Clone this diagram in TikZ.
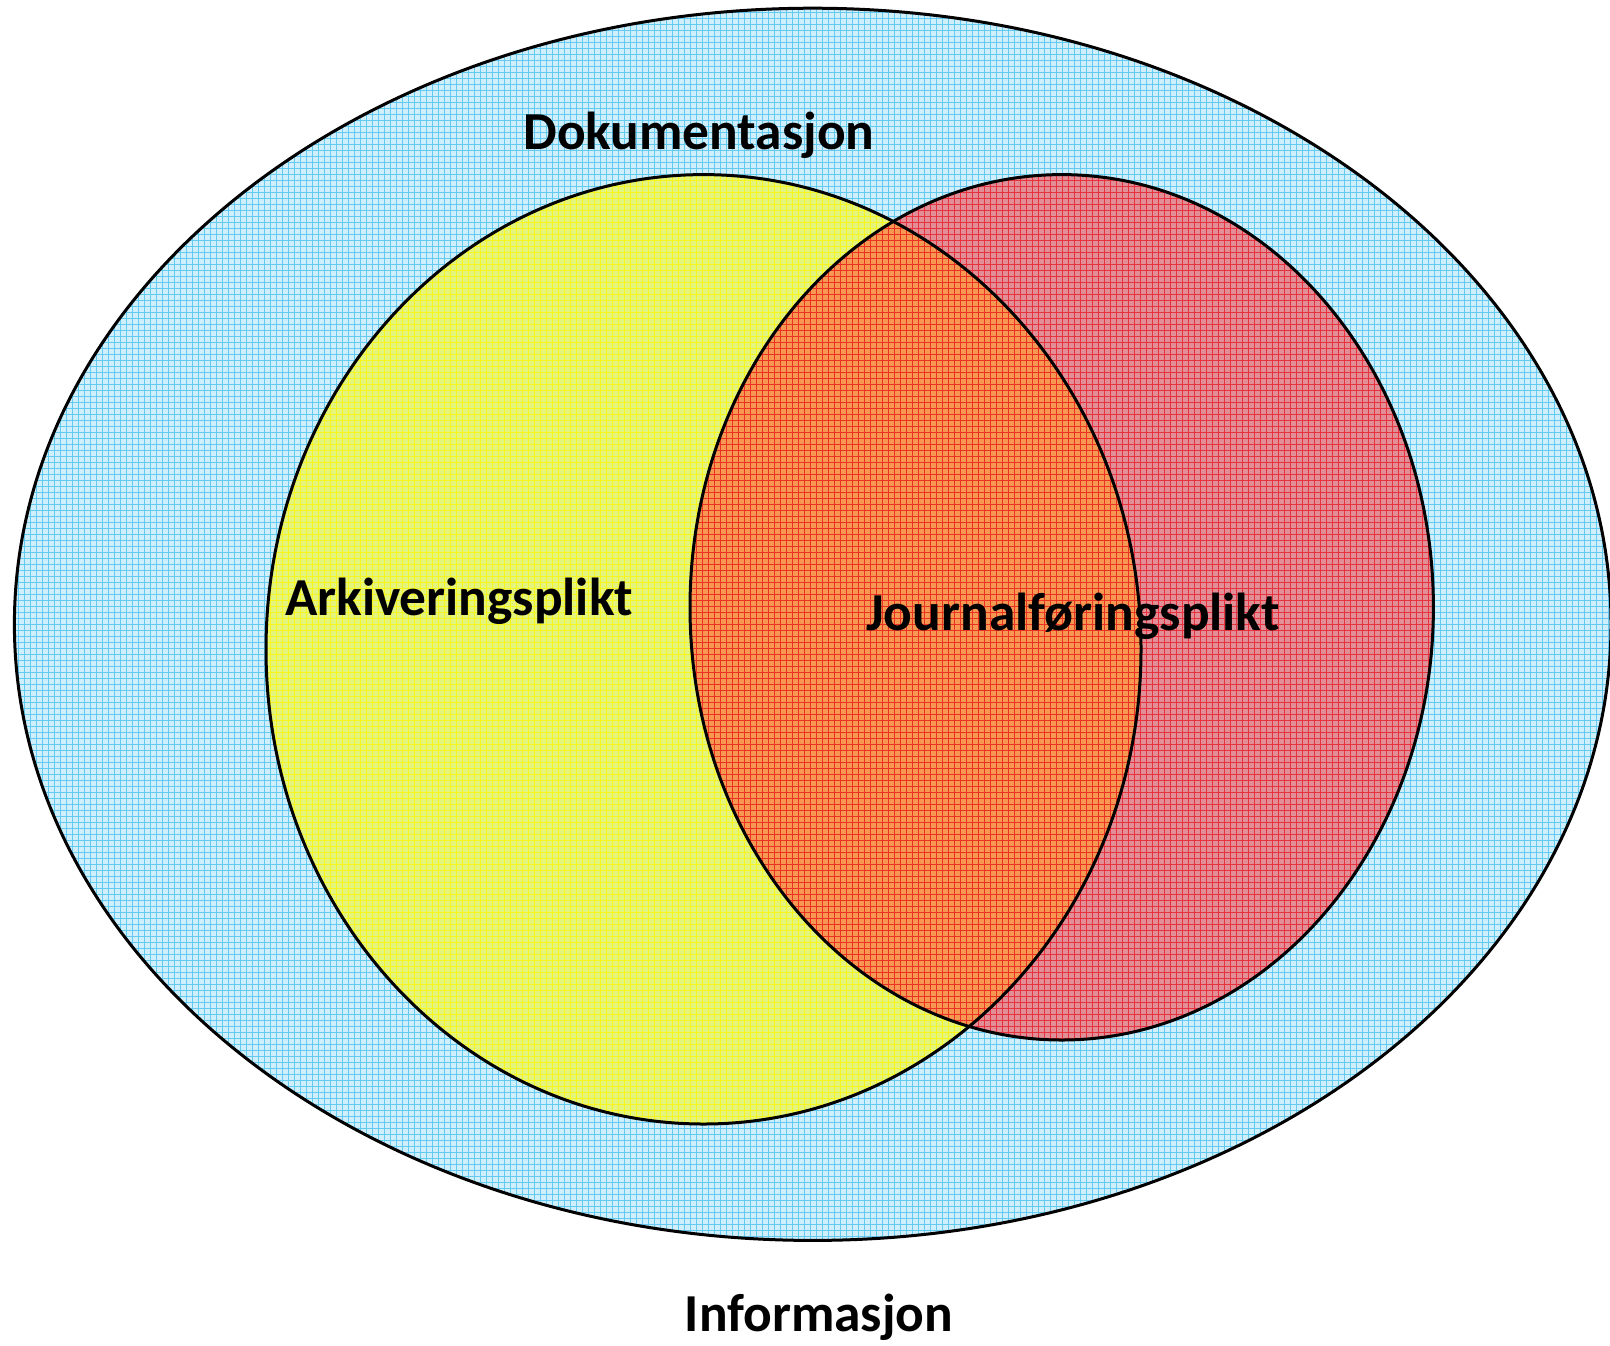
\documentclass[tikz,border=0pt]{standalone}
\usepackage{fontspec}
\setmainfont{Carlito}

\definecolor{infoblue}{RGB}{208,239,252}
\definecolor{infobluegrid}{RGB}{100,202,240}
\definecolor{arkivyellow}{RGB}{228,245,126}
\definecolor{arkivyellowgrid}{RGB}{248,244,30}
\definecolor{journalred}{RGB}{226,142,150}
\definecolor{journalredgrid}{RGB}{232,50,62}
\definecolor{overlaporange}{RGB}{246,152,82}
\definecolor{overlaporangegrid}{RGB}{236,50,34}

\tikzset{
	setlabel/.style={anchor=base,inner sep=0.75pt,font=\fontsize{26.7}{31}\selectfont\bfseries},
	hatchgrid/.style={step=6,line width=0.5pt}
}

\begin{document}
\begin{tikzpicture}[x=0.5pt,y=0.5pt,yscale=-1,xscale=1]
	\useasboundingbox (0,0) rectangle (1610,1345);
	% Informasjon (outer set)
	\fill [infoblue] (812.7,624.3) ellipse [x radius=798.3, y radius=616.1] ;
	\begin{scope}
		\clip (812.7,624.3) ellipse [x radius=798.3, y radius=616.1] ;
		\draw [hatchgrid,infobluegrid] (0,0) grid (1610,1345) ;
	\end{scope}
	% Arkiveringsplikt
	\fill [arkivyellow] (703.5,649.3) ellipse [x radius=437.5, y radius=474.7] ;
	\begin{scope}
		\clip (703.5,649.3) ellipse [x radius=437.5, y radius=474.7] ;
		\draw [hatchgrid,arkivyellowgrid] (0,0) grid (1610,1345) ;
	\end{scope}
	% Journalføringsplikt
	\fill [journalred] (1061.7,607.3) ellipse [x radius=371.7, y radius=432.7] ;
	\begin{scope}
		\clip (1061.7,607.3) ellipse [x radius=371.7, y radius=432.7] ;
		\draw [hatchgrid,journalredgrid] (0,0) grid (1610,1345) ;
	\end{scope}
	% overlap of the two duties
	\begin{scope}
		\clip (703.5,649.3) ellipse [x radius=437.5, y radius=474.7] ;
		\fill [overlaporange] (1061.7,607.3) ellipse [x radius=371.7, y radius=432.7] ;
		\clip (1061.7,607.3) ellipse [x radius=371.7, y radius=432.7] ;
		\draw [hatchgrid,overlaporangegrid] (0,0) grid (1610,1345) ;
	\end{scope}
	% outlines
	\draw [line width=1.5pt] (812.7,624.3) ellipse [x radius=798.3, y radius=616.1] ;
	\draw [line width=1.5pt] (703.5,649.3) ellipse [x radius=437.5, y radius=474.7] ;
	\draw [line width=1.5pt] (1061.7,607.3) ellipse [x radius=371.7, y radius=432.7] ;
	\node [setlabel] (dok) at (699,149) {Dokumentasjon};
	\node [setlabel] (ark) at (459,615) {Arkiveringsplikt};
	\node [setlabel] (jour) at (1073,630) {Journalføringsplikt};
	\node [setlabel] (info) at (819,1331.7) {Informasjon};
\end{tikzpicture}
\end{document}
